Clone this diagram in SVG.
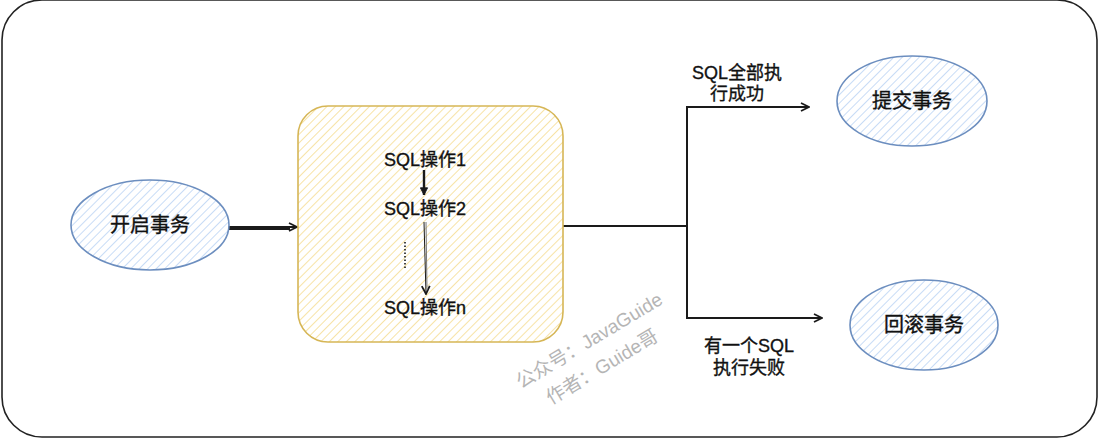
<svg xmlns="http://www.w3.org/2000/svg" width="1099" height="439" viewBox="0 0 1099 439">
<style>
.t{font-family:"Liberation Sans","Noto Sans CJK SC",sans-serif;fill:#111;stroke:#111;stroke-width:0.35;text-anchor:middle}
.n{font-size:20px}
.s{font-size:18px}
.line{fill:none;stroke:#1a1a1a;stroke-width:2}
.wm{font-family:"Liberation Sans","Noto Sans CJK SC",sans-serif;font-size:19px;fill:#b5b5b5}
</style>
<defs>
<pattern id="hb" width="6" height="6" patternUnits="userSpaceOnUse" patternTransform="rotate(45)">
<rect width="6" height="6" fill="#ffffff"/>
<line x1="0" y1="0" x2="0" y2="6" stroke="#c8dcf6" stroke-width="2"/>
</pattern>
<pattern id="hy" width="6" height="6" patternUnits="userSpaceOnUse" patternTransform="rotate(45)">
<rect width="6" height="6" fill="#ffffff"/>
<line x1="0" y1="0" x2="0" y2="6" stroke="#f7e3a6" stroke-width="2"/>
</pattern>
<marker id="ar" viewBox="0 0 10 10" refX="9" refY="5" markerWidth="10" markerHeight="10" markerUnits="userSpaceOnUse" orient="auto">
<path d="M1,1 L9,5 L1,9" fill="none" stroke="#1a1a1a" stroke-width="1.8"/>
</marker>
<marker id="af" viewBox="0 0 10 10" refX="9" refY="5" markerWidth="9" markerHeight="9" markerUnits="userSpaceOnUse" orient="auto">
<path d="M1,1 L9,5 L1,9 Z" fill="#1a1a1a" stroke="#1a1a1a" stroke-width="1"/>
</marker>
</defs>
<rect x="0" y="0" width="1099" height="439" fill="#ffffff"/>
<g id="frame">
<rect x="2" y="0" width="1095" height="437" rx="40" ry="40" fill="none" stroke="#222" stroke-width="1.6"/>
</g>
<g id="connectors">
<line class="line" x1="227" y1="227" x2="297" y2="227" stroke-width="1.6" marker-end="url(#ar)"/>
<line class="line" x1="227" y1="229" x2="290" y2="229" stroke-width="1"/>
<polyline class="line" points="563,226 687,226"/>
<polyline class="line" points="687,226 687,107 809,107" marker-end="url(#ar)"/>
<polyline class="line" points="687,226 687,318 822,318" marker-end="url(#ar)"/>
<text class="t s" x="737" y="79">SQL全部执</text>
<text class="t s" x="737" y="100">行成功</text>
<text class="t s" x="749" y="352">有一个SQL</text>
<text class="t s" x="749" y="374">执行失败</text>
</g>
<g id="start">
<ellipse cx="150" cy="225" rx="79" ry="45" fill="url(#hb)" stroke="#6c8ebf" stroke-width="1.6"/>
<text class="t n" x="150" y="232">开启事务</text>
</g>
<g id="sqlbox">
<rect x="298" y="106" width="265" height="236" rx="30" ry="30" fill="url(#hy)" stroke="#d6b656" stroke-width="1.6"/>
<text class="t s" x="425" y="166">SQL操作1</text>
<text class="t s" x="425" y="215">SQL操作2</text>
<text class="t s" x="425" y="314">SQL操作n</text>
<line x1="424" y1="170" x2="424" y2="195" stroke="#1a1a1a" stroke-width="2.4" marker-end="url(#af)"/>
<line x1="424" y1="222" x2="426" y2="294" stroke="#1a1a1a" stroke-width="1" marker-end="url(#ar)"/>
<line x1="426" y1="222" x2="427" y2="290" stroke="#777" stroke-width="1"/>
<line x1="405" y1="242" x2="405" y2="270" stroke="#1a1a1a" stroke-width="1.6" stroke-dasharray="1.5,2"/>
</g>
<g id="commit">
<ellipse cx="912" cy="101" rx="75" ry="45" fill="url(#hb)" stroke="#6c8ebf" stroke-width="1.6"/>
<text class="t n" x="912" y="108">提交事务</text>
</g>
<g id="rollback">
<ellipse cx="924" cy="325" rx="74" ry="45" fill="url(#hb)" stroke="#6c8ebf" stroke-width="1.6"/>
<text class="t n" x="924" y="332">回滚事务</text>
</g>
<g id="watermark">
<text class="wm" transform="translate(521,389) rotate(-31)">公众号：JavaGuide</text>
<text class="wm" transform="translate(551,405) rotate(-31)">作者：Guide哥</text>
</g>
</svg>
